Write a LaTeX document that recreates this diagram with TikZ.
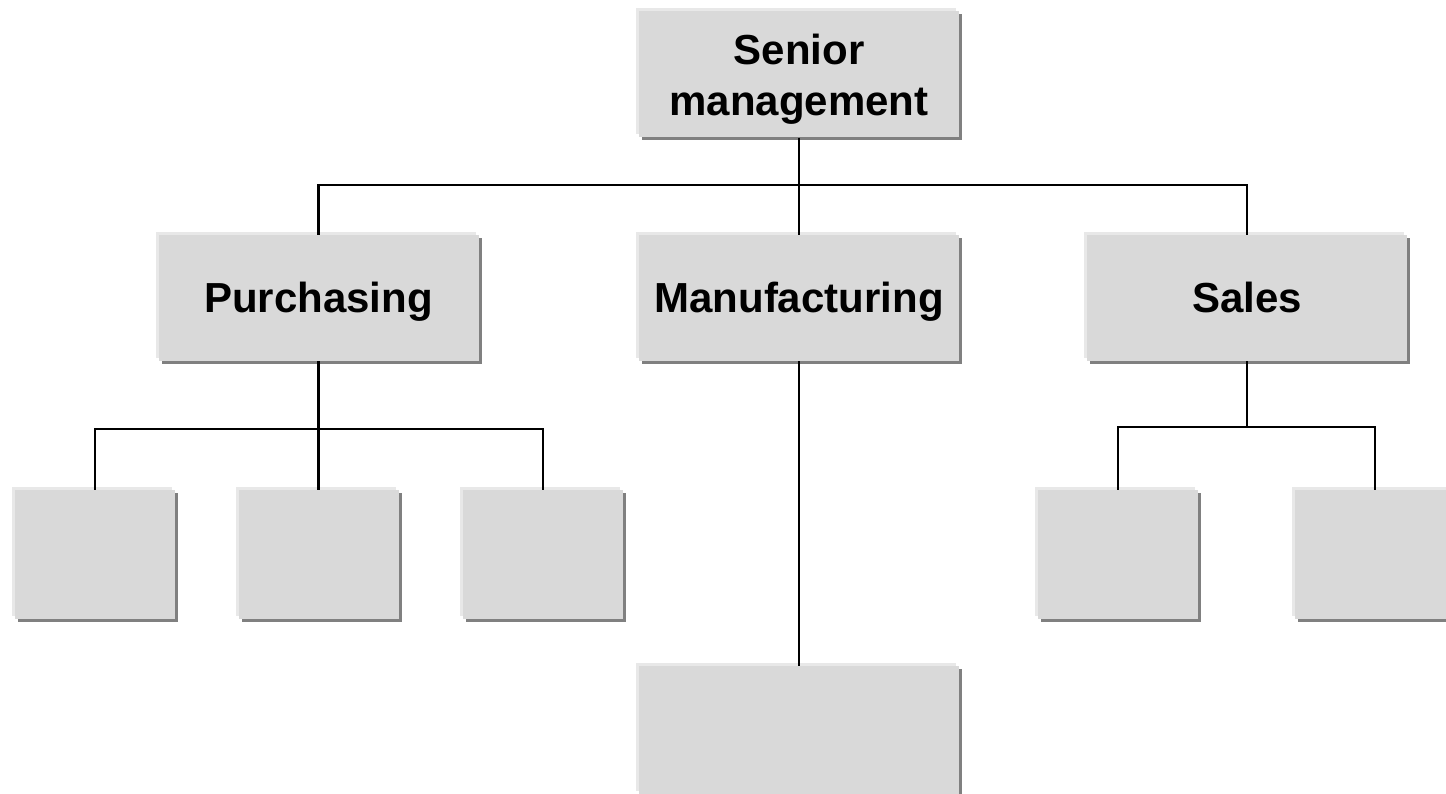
\documentclass[tikz,border=0pt]{standalone}
\usepackage{fontspec}
\setmainfont{Liberation Sans}
\usetikzlibrary{shadows}
\definecolor{boxfill}{HTML}{D9D9D9}
\definecolor{boxhi}{HTML}{E8E8E8}
\definecolor{boxsh}{HTML}{808080}
\begin{document}
\begin{tikzpicture}[x=1pt,y=-1pt,
  orgbox/.style={fill=boxfill, inner sep=0pt, align=center, text depth=0pt,
    font=\fontsize{42}{51}\selectfont\bfseries,
    general shadow={fill=boxsh, shadow xshift=3pt, shadow yshift=-3pt},
    general shadow={fill=boxhi, shadow xshift=-3pt, shadow yshift=3pt}},
  bigbox/.style={orgbox, minimum width=320pt, minimum height=126pt},
  oneline/.style={text height=30pt},
  smallbox/.style={orgbox, minimum width=160pt, minimum height=129pt},
  conn/.style={draw=black, line width=2.7pt}]
\useasboundingbox (0,0) rectangle (1446,794);
\node[bigbox] (sen) at (799,74.5) {Senior\\management};
\node[bigbox, oneline] (pur) at (318.5,298) {Purchasing};
\node[bigbox, oneline] (man) at (799,298) {Manufacturing};
\node[bigbox, oneline] (sal) at (1247,298) {Sales};
\node[smallbox] (p1) at (95,554.5) {};
\node[smallbox] (p2) at (318.5,554.5) {};
\node[smallbox] (p3) at (543,554.5) {};
\node[smallbox] (s1) at (1118,554.5) {};
\node[smallbox] (s2) at (1375,554.5) {};
\node[bigbox, minimum height=128pt] (bot) at (799,730) {};
\coordinate (j1) at (799,185);
\coordinate (j2) at (318.5,429);
\coordinate (j3) at (1247,427);
\draw[conn] (sen.south) -- (man.north);
\draw[conn] (pur.north) |- (j1) -| (sal.north);
\draw[conn] (pur.south) -- (p2.north);
\draw[conn] (p1.north) |- (j2) -| (p3.north);
\draw[conn] (man.south) -- (bot.north);
\draw[conn] (sal.south) -- (j3);
\draw[conn] (s1.north) |- (j3) -| (s2.north);
\end{tikzpicture}
\end{document}
